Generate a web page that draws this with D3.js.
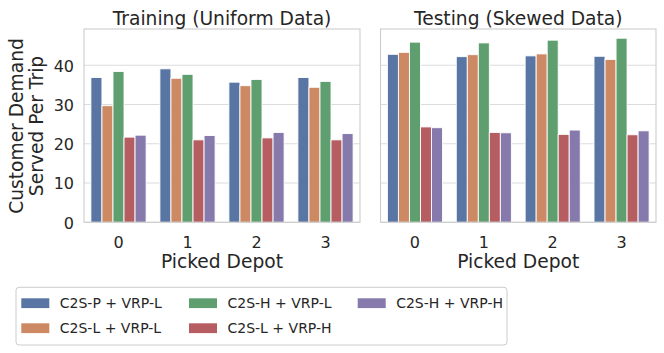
<!DOCTYPE html>
<html>
<head>
<meta charset="utf-8">
<script src="https://cdn.jsdelivr.net/npm/d3@7"></script>
<style>
  html, body { margin: 0; padding: 0; background: #fff; }
  svg text { font-family: "DejaVu Sans", sans-serif; fill: #262626; }
</style>
</head>
<body>
<svg id="chart" width="664" height="353"></svg>
<script>
const depots = ["0", "1", "2", "3"];
const seriesNames = ["C2S-P + VRP-L", "C2S-L + VRP-L", "C2S-H + VRP-L", "C2S-L + VRP-H", "C2S-H + VRP-H"];
const seriesColors = ["#5875a4", "#cc8963", "#5f9e6e", "#b55d60", "#857aab"];
const yTicks = [0, 10, 20, 30, 40];

// values per series, indexed by depot
const trainingValues = [
  [36.9, 39.1, 35.7, 36.9],
  [29.7, 36.7, 34.8, 34.4],
  [38.4, 37.7, 36.4, 35.9],
  [21.7, 21.0, 21.5, 21.0],
  [22.2, 22.1, 22.9, 22.6]
];
const testingValues = [
  [42.8, 42.2, 42.4, 42.3],
  [43.3, 42.7, 42.9, 41.5],
  [45.9, 45.7, 46.4, 46.9],
  [24.3, 22.9, 22.4, 22.3],
  [24.1, 22.8, 23.5, 23.3]
];
const panelTitles = ["Training (Uniform Data)", "Testing (Skewed Data)"];
const xLabel = "Picked Depot";
const yLabelLines = ["Customer Demand", "Served Per Trip"];

const svg = d3.select("#chart");
const plotTop = 29, plotBottom = 222.3;
const maxVal = d3.max([...trainingValues.flat(), ...testingValues.flat()]);
const y = d3.scaleLinear().domain([0, maxVal * 1.05]).range([plotBottom, plotTop]);

const panels = [
  { x0: 84, x1: 360, values: trainingValues, title: panelTitles[0], showY: true },
  { x0: 380.5, x1: 656, values: testingValues, title: panelTitles[1], showY: false }
];

panels.forEach(p => {
  const x = d3.scaleBand().domain(depots).range([p.x0, p.x1]).paddingInner(0.2).paddingOuter(0.1);
  const xs = d3.scaleBand().domain(d3.range(seriesNames.length)).range([0, x.bandwidth()]);
  const g = svg.append("g");

  // grid
  g.selectAll("line.grid").data(yTicks).join("line")
    .attr("x1", p.x0).attr("x2", p.x1)
    .attr("y1", d => y(d)).attr("y2", d => y(d))
    .attr("stroke", "#dcdcdc").attr("stroke-width", 1.1);

  // bars
  p.values.forEach((vals, si) => {
    g.selectAll(null).data(vals).join("rect")
      .attr("x", (d, i) => x(depots[i]) + xs(si))
      .attr("width", xs.bandwidth())
      .attr("y", d => y(d))
      .attr("height", d => y(0) - y(d))
      .attr("fill", seriesColors[si])
      .attr("stroke", "#ffffff").attr("stroke-width", 0.9);
  });

  // frame
  g.append("rect").attr("x", p.x0).attr("y", plotTop)
    .attr("width", p.x1 - p.x0).attr("height", plotBottom - plotTop)
    .attr("fill", "none").attr("stroke", "#cccccc").attr("stroke-width", 1.1);

  // x axis
  const xAxis = d3.axisBottom(x).tickSize(0).tickPadding(0);
  const xg = g.append("g").attr("transform", `translate(0,${plotBottom})`).call(xAxis);
  xg.select(".domain").remove();
  xg.selectAll("text").attr("y", 26).attr("dy", null)
    .style("font-size", "16px").attr("fill", "#262626");

  // y axis
  if (p.showY) {
    const yAxis = d3.axisLeft(y).tickValues(yTicks).tickSize(0).tickPadding(0);
    const yg = g.append("g").attr("transform", `translate(${p.x0},0)`).call(yAxis);
    yg.select(".domain").remove();
    yg.selectAll("text").attr("x", -10).attr("dy", "0.36em")
      .style("font-size", "16px").attr("fill", "#262626");
  }

  // title
  g.append("text").attr("x", (p.x0 + p.x1) / 2).attr("y", 24.5)
    .attr("text-anchor", "middle").style("font-size", "18.67px").text(p.title);

  // x label
  g.append("text").attr("x", (p.x0 + p.x1) / 2).attr("y", 268.3)
    .attr("text-anchor", "middle").style("font-size", "18.67px").text(xLabel);
});

// y label
const yl = svg.append("text").attr("transform", "translate(0,126) rotate(-90)")
  .attr("text-anchor", "middle").style("font-size", "18.67px");
yl.append("tspan").attr("x", 0).attr("y", 22.7).text(yLabelLines[0]);
yl.append("tspan").attr("x", 0).attr("y", 43.3).text(yLabelLines[1]);

// legend
const lg = svg.append("g");
lg.append("rect").attr("x", 16).attr("y", 287.3).attr("width", 491).attr("height", 57.7)
  .attr("rx", 3).attr("fill", "#fff").attr("stroke", "#cccccc").attr("stroke-width", 1);
const colX = [21.3, 189, 357.7];
const rowY = [298.3, 323.3];
seriesNames.forEach((name, i) => {
  const c = Math.floor(i / 2), r = i % 2;
  lg.append("rect").attr("x", colX[c]).attr("y", rowY[r])
    .attr("width", 28).attr("height", 9.8).attr("fill", seriesColors[i]);
  lg.append("text").attr("x", colX[c] + 38.5).attr("y", rowY[r] + 10)
    .style("font-size", "14px").text(name);
});
</script>
</body>
</html>
